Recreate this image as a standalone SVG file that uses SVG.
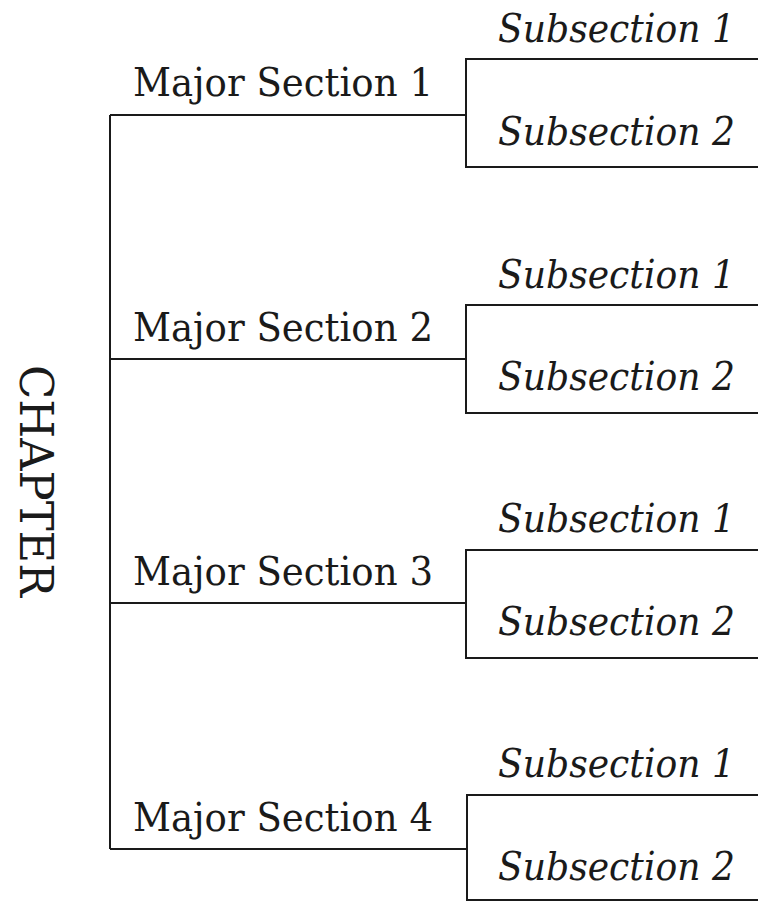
<svg xmlns="http://www.w3.org/2000/svg" width="758" height="902" viewBox="0 0 758 902">
<style>
.ln{stroke:#1a1a1a;stroke-width:2;fill:none}
.maj{font-family:"DejaVu Serif","Liberation Serif",serif;font-size:40px;fill:#1a1a1a}
.sub{font-family:"DejaVu Serif","Liberation Serif",serif;font-style:italic;font-size:39px;fill:#1a1a1a}
.ch{font-family:"DejaVu Serif","Liberation Serif",serif;font-size:46px;fill:#1a1a1a}
</style>
<rect width="758" height="902" fill="#fff"/>
<g id="connectors">
<path class="ln" d="M110 115V849"/>
<path class="ln" d="M110 115H466M110 359H466M110 603H466M110 849H466"/>
<path class="ln" d="M758 59H466V167H758"/>
<path class="ln" d="M758 305H466V413H758"/>
<path class="ln" d="M758 550H466V658H758"/>
<path class="ln" d="M758 795H467V900H758"/>
</g>
<g id="chapter">
<text class="ch" transform="translate(20,481) rotate(90)" text-anchor="middle" textLength="232" lengthAdjust="spacingAndGlyphs">CHAPTER</text>
</g>
<g id="major1"><text class="maj" x="133" y="96" textLength="300" lengthAdjust="spacingAndGlyphs">Major Section 1</text></g>
<g id="major2"><text class="maj" x="133" y="341" textLength="300" lengthAdjust="spacingAndGlyphs">Major Section 2</text></g>
<g id="major3"><text class="maj" x="133" y="585" textLength="300" lengthAdjust="spacingAndGlyphs">Major Section 3</text></g>
<g id="major4"><text class="maj" x="133" y="831" textLength="300" lengthAdjust="spacingAndGlyphs">Major Section 4</text></g>
<g id="sub1a"><text class="sub" x="498" y="42" textLength="237" lengthAdjust="spacingAndGlyphs">Subsection 1</text></g>
<g id="sub1b"><text class="sub" x="498" y="145" textLength="237" lengthAdjust="spacingAndGlyphs">Subsection 2</text></g>
<g id="sub2a"><text class="sub" x="498" y="288" textLength="237" lengthAdjust="spacingAndGlyphs">Subsection 1</text></g>
<g id="sub2b"><text class="sub" x="498" y="390" textLength="237" lengthAdjust="spacingAndGlyphs">Subsection 2</text></g>
<g id="sub3a"><text class="sub" x="498" y="532" textLength="237" lengthAdjust="spacingAndGlyphs">Subsection 1</text></g>
<g id="sub3b"><text class="sub" x="498" y="635" textLength="237" lengthAdjust="spacingAndGlyphs">Subsection 2</text></g>
<g id="sub4a"><text class="sub" x="498" y="777" textLength="237" lengthAdjust="spacingAndGlyphs">Subsection 1</text></g>
<g id="sub4b"><text class="sub" x="498" y="880" textLength="237" lengthAdjust="spacingAndGlyphs">Subsection 2</text></g>
</svg>
